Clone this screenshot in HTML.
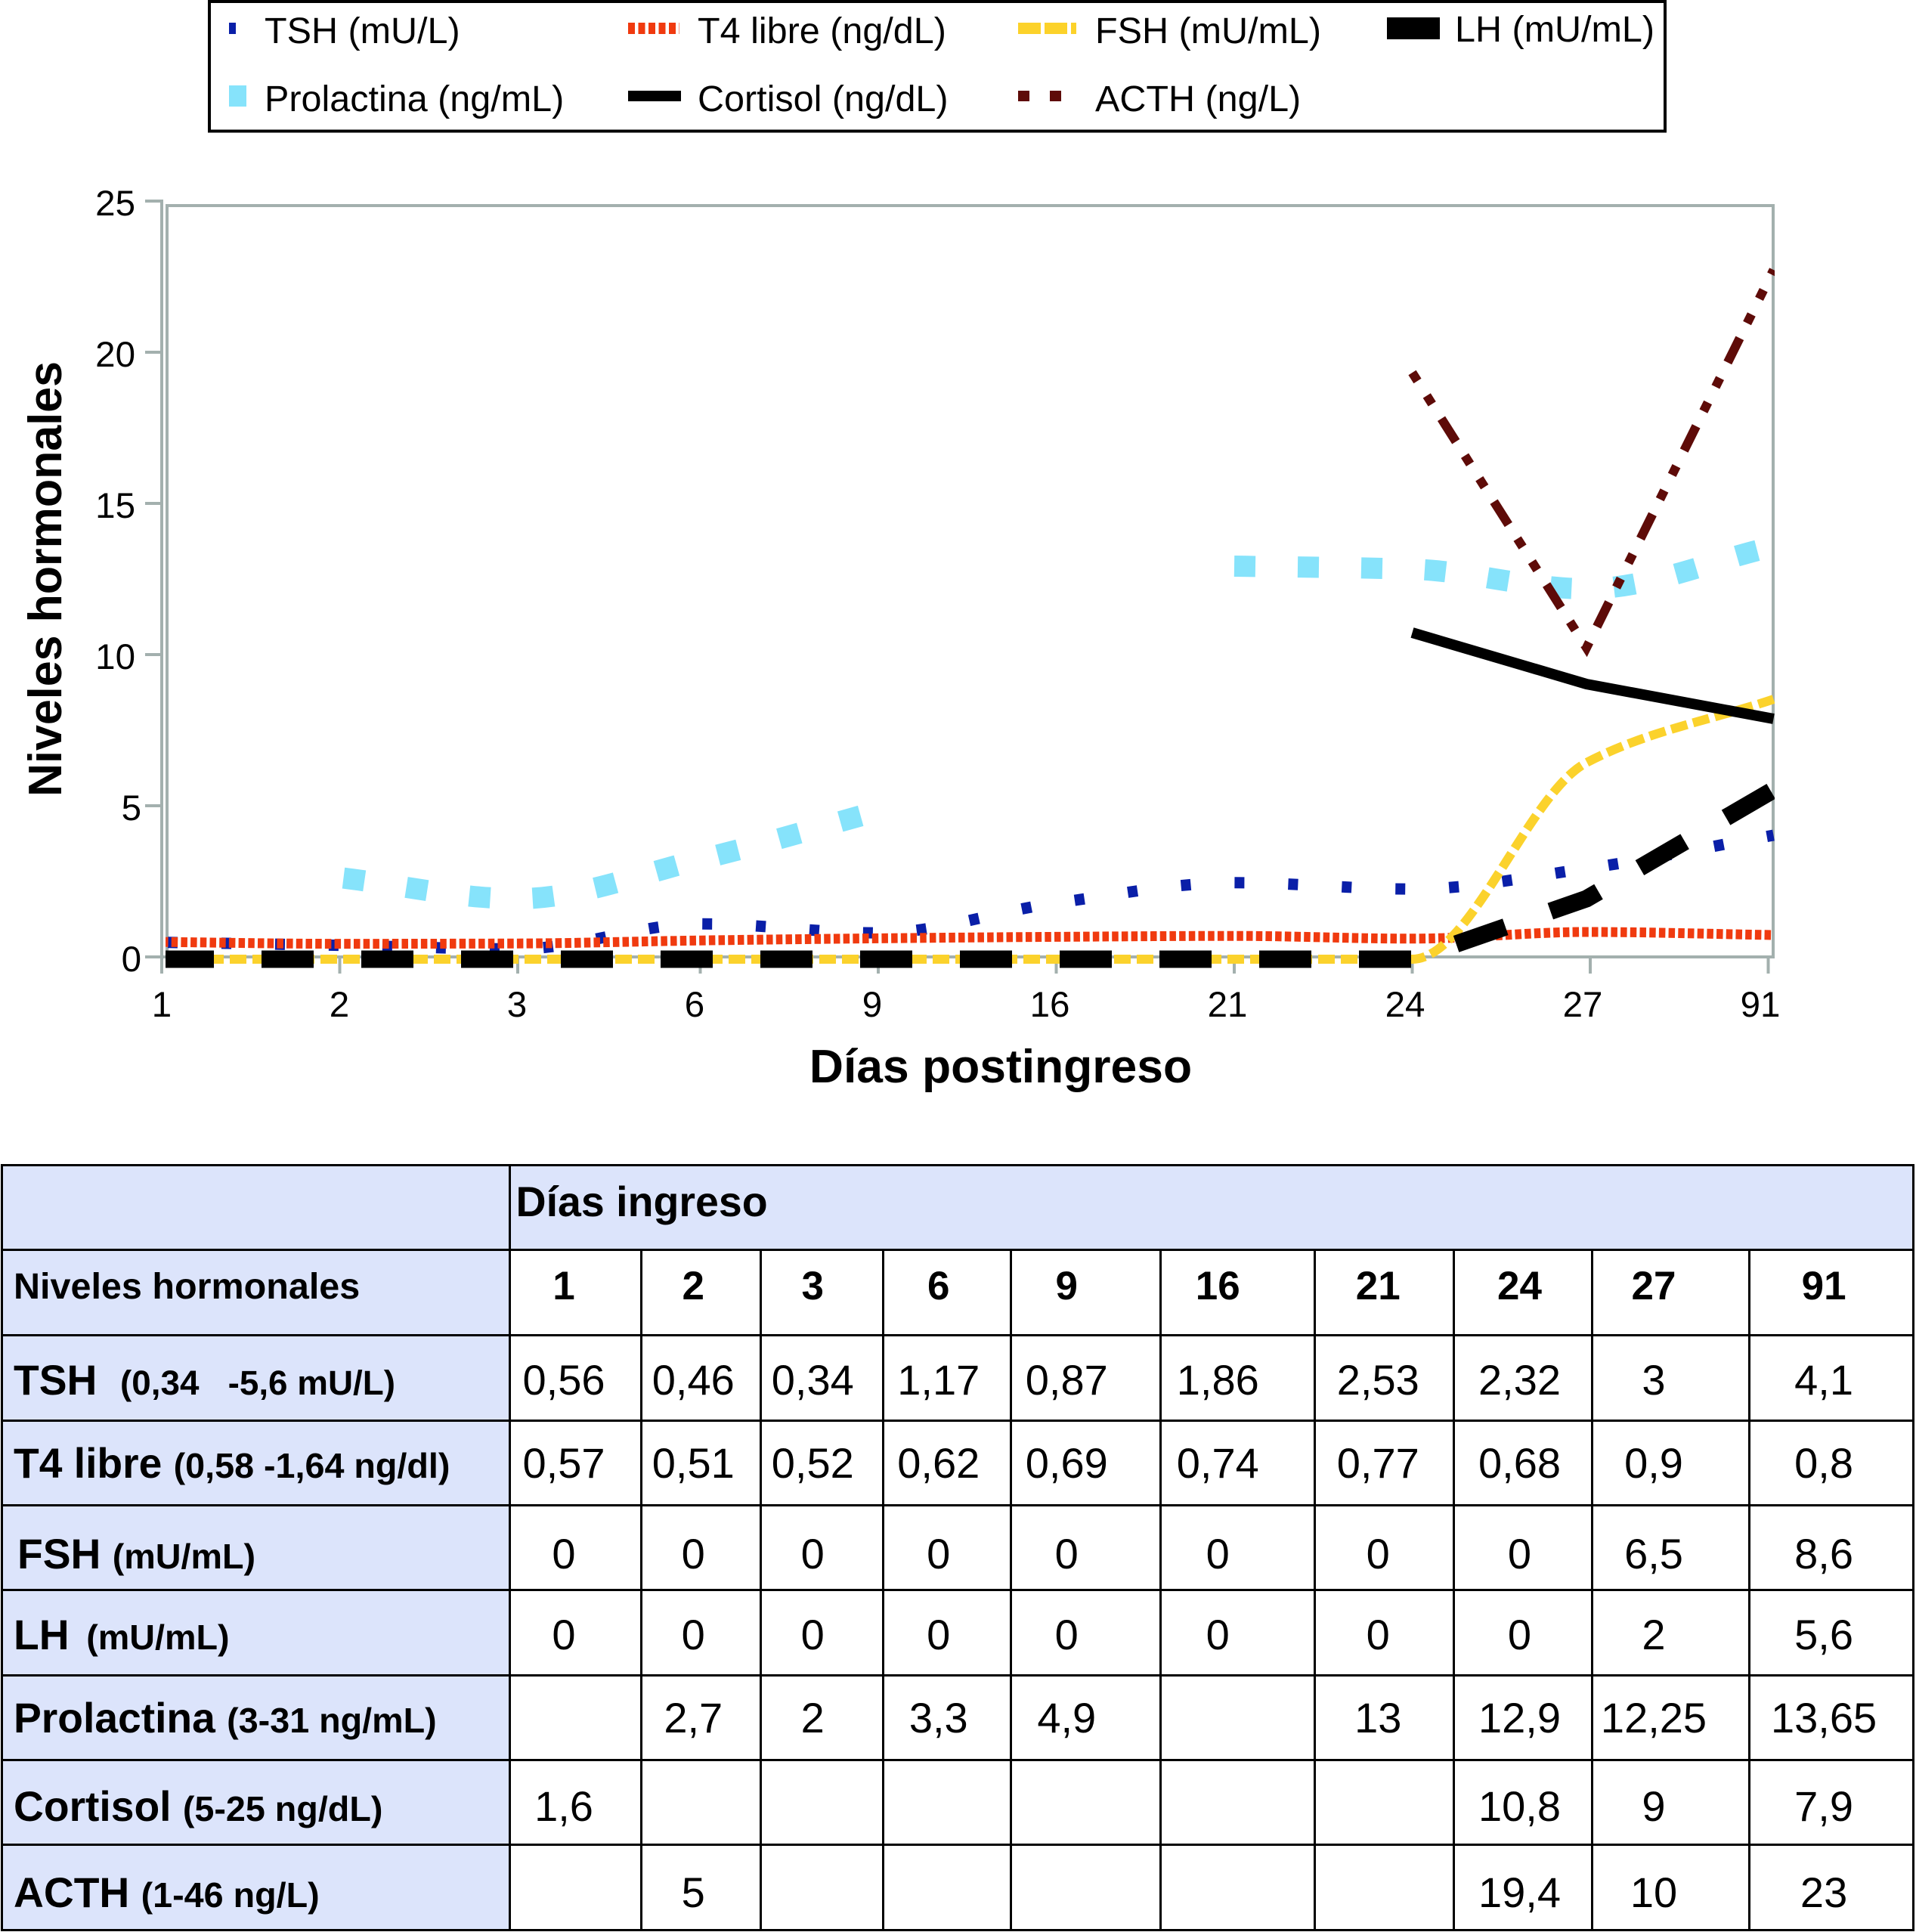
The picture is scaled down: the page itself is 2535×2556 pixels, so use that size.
<!DOCTYPE html>
<html lang="es">
<head>
<meta charset="utf-8">
<title>Niveles hormonales</title>
<style>
html,body{margin:0;padding:0;background:#fff;}
html{width:2535px;height:2556px;overflow:hidden;}
body{position:relative;width:2535px;height:2556px;overflow:hidden;font-family:"Liberation Sans",Arial,sans-serif;color:#000;}
#chart{position:absolute;left:0;top:0;width:2535px;height:1530px;}
#chart text{font-family:"Liberation Sans",Arial,sans-serif;fill:#000;}
#hormone-table{position:absolute;left:1px;top:1539.5px;width:2531.5px;table-layout:fixed;border-collapse:collapse;border:3px solid #000;}
#hormone-table td{border:3px solid #000;padding:0;vertical-align:top;font-size:56px;line-height:60px;text-align:center;white-space:nowrap;background:#fff;overflow:visible;box-sizing:border-box;}
#hormone-table td.lab{background:#dce4fb;text-align:left;padding-left:14px;font-weight:bold;font-size:55.2px;}
#hormone-table td.head{background:#dce4fb;text-align:left;padding-left:7px;font-weight:bold;font-size:55.5px;}
#hormone-table td:nth-child(2){padding-right:30px;}
#hormone-table td:nth-child(3){padding-right:20px;}
#hormone-table td:nth-child(4){padding-right:24px;}
#hormone-table td:nth-child(5){padding-right:22px;}
#hormone-table td:nth-child(6){padding-right:50px;}
#hormone-table td:nth-child(7){padding-right:52px;}
#hormone-table td:nth-child(8){padding-right:16px;}
#hormone-table td:nth-child(9){padding-right:8px;}
#hormone-table td:nth-child(10){padding-right:44px;}
#hormone-table td:nth-child(11){padding-right:19px;}
#hormone-table td.head:nth-child(2){padding-right:0;}
#hormone-table .hd td{font-weight:bold;font-size:53px;}
#hormone-table .hd td.lab{font-size:48.5px;}
#hormone-table .u{font-size:46.7px;}
.r0{height:112.5px;} .r0 td{padding-top:17px !important;height:112.5px;}
.r1{height:112.5px;} .r1 td{padding-top:17px !important;height:112.5px;}
.r2{height:113px;} .r2 td{padding-top:28px !important;height:113px;}
.r3{height:112px;} .r3 td{padding-top:25px !important;height:112px;}
.r4{height:112px;} .r4 td{padding-top:33px !important;height:112px;}
.r5{height:113px;} .r5 td{padding-top:28px !important;height:113px;}
.r6{height:112px;} .r6 td{padding-top:25px !important;height:112px;}
.r7{height:112px;} .r7 td{padding-top:30px !important;height:112px;}
.r8{height:113px;} .r8 td{padding-top:32px !important;height:113px;}
</style>
</head>
<body>

<svg id="chart" viewBox="0 0 2535 1530" xmlns="http://www.w3.org/2000/svg">
  <defs>
    <clipPath id="plot-clip"><rect x="219" y="270" width="2129" height="1020"/></clipPath>
  </defs>

  <g>
    <rect x="277" y="2" width="1926" height="171.5" fill="#fff" stroke="#000" stroke-width="4"/>
    <g>
      <rect x="303" y="30" width="9" height="15" fill="#0a1fa8"/>
      <text x="350" y="57" font-size="48.5">TSH (mU/L)</text>
    </g>
    <g>
      <line x1="831" y1="37.5" x2="899" y2="37.5" stroke="#f03a0f" stroke-width="15" stroke-dasharray="9 4.5"/>
      <text x="923" y="57" font-size="48.5">T4 libre (ng/dL)</text>
    </g>
    <g>
      <line x1="1347" y1="37.5" x2="1424" y2="37.5" stroke="#fcd22a" stroke-width="15" stroke-dasharray="30 5"/>
      <text x="1449" y="57" font-size="48.5">FSH (mU/mL)</text>
    </g>
    <g>
      <rect x="1835" y="23" width="70" height="29" fill="#000"/>
      <text x="1925" y="55" font-size="48.5">LH (mU/mL)</text>
    </g>
    <g>
      <rect x="303" y="113" width="23" height="28" fill="#86e3fb"/>
      <text x="350" y="147" font-size="48.5">Prolactina (ng/mL)</text>
    </g>
    <g>
      <rect x="831" y="120" width="70" height="14" fill="#000"/>
      <text x="923" y="147" font-size="48.5">Cortisol (ng/dL)</text>
    </g>
    <g>
      <rect x="1347" y="120" width="15" height="14" fill="#5e0b08"/>
      <rect x="1389" y="120" width="15" height="14" fill="#5e0b08"/>
      <text x="1449" y="147" font-size="48.5">ACTH (ng/L)</text>
    </g>
  </g>

  <g id="frame"></g>
  <g id="axes"></g>
  <g id="series" clip-path="url(#plot-clip)"></g>

  <text x="1324" y="1432" font-size="62.4" font-weight="bold" text-anchor="middle">Días postingreso</text>
  <text transform="translate(81,766) rotate(-90)" font-size="62" font-weight="bold" text-anchor="middle" textLength="576" lengthAdjust="spacingAndGlyphs">Niveles hormonales</text>
</svg>

<table id="hormone-table">
  <colgroup>
    <col style="width:671.5px"><col style="width:174px"><col style="width:158.5px"><col style="width:161.5px"><col style="width:169.5px"><col style="width:197.5px"><col style="width:204.5px"><col style="width:183.5px"><col style="width:183px"><col style="width:208px"><col style="width:217px">
  </colgroup>
  <tr class="r0">
    <td class="lab"></td>
    <td class="head" colspan="10">Días ingreso</td>
  </tr>
  <tr class="r1 hd">
    <td class="lab">Niveles hormonales</td>
    <td>1</td>
    <td>2</td>
    <td>3</td>
    <td>6</td>
    <td>9</td>
    <td>16</td>
    <td>21</td>
    <td>24</td>
    <td>27</td>
    <td>91</td>
  </tr>
  <tr class="r2">
    <td class="lab">TSH&nbsp; <span class="u" style="font-size:45.8px">(0,34 &nbsp; -5,6 mU/L)</span></td>
    <td>0,56</td>
    <td>0,46</td>
    <td>0,34</td>
    <td>1,17</td>
    <td>0,87</td>
    <td>1,86</td>
    <td>2,53</td>
    <td>2,32</td>
    <td>3</td>
    <td>4,1</td>
  </tr>
  <tr class="r3">
    <td class="lab">T4 libre <span class="u">(0,58 -1,64 ng/dl)</span></td>
    <td>0,57</td>
    <td>0,51</td>
    <td>0,52</td>
    <td>0,62</td>
    <td>0,69</td>
    <td>0,74</td>
    <td>0,77</td>
    <td>0,68</td>
    <td>0,9</td>
    <td>0,8</td>
  </tr>
  <tr class="r4">
    <td class="lab" style="padding-left:19px">FSH <span class="u">(mU/mL)</span></td>
    <td>0</td>
    <td>0</td>
    <td>0</td>
    <td>0</td>
    <td>0</td>
    <td>0</td>
    <td>0</td>
    <td>0</td>
    <td>6,5</td>
    <td>8,6</td>
  </tr>
  <tr class="r5">
    <td class="lab">LH&nbsp; <span class="u" style="margin-left:-8px">(mU/mL)</span></td>
    <td>0</td>
    <td>0</td>
    <td>0</td>
    <td>0</td>
    <td>0</td>
    <td>0</td>
    <td>0</td>
    <td>0</td>
    <td>2</td>
    <td>5,6</td>
  </tr>
  <tr class="r6">
    <td class="lab">Prolactina <span class="u">(3-31 ng/mL)</span></td>
    <td></td>
    <td>2,7</td>
    <td>2</td>
    <td>3,3</td>
    <td>4,9</td>
    <td></td>
    <td>13</td>
    <td>12,9</td>
    <td>12,25</td>
    <td>13,65</td>
  </tr>
  <tr class="r7">
    <td class="lab">Cortisol <span class="u">(5-25 ng/dL)</span></td>
    <td>1,6</td>
    <td></td>
    <td></td>
    <td></td>
    <td></td>
    <td></td>
    <td></td>
    <td>10,8</td>
    <td>9</td>
    <td>7,9</td>
  </tr>
  <tr class="r8">
    <td class="lab">ACTH <span class="u">(1-46 ng/L)</span></td>
    <td></td>
    <td>5</td>
    <td></td>
    <td></td>
    <td></td>
    <td></td>
    <td></td>
    <td>19,4</td>
    <td>10</td>
    <td>23</td>
  </tr>
</table>

<script>
const categories = ['1','2','3','6','9','16','21','24','27','91'];
const yTickValues = [0,5,10,15,20,25];
const tshValues = [0.56,0.46,0.34,1.17,0.87,1.86,2.53,2.32,3,4.1];
const t4Values = [0.57,0.51,0.52,0.62,0.69,0.74,0.77,0.68,0.9,0.8];
const fshValues = [0,0,0,0,0,0,0,0,6.5,8.6];
const lhValues = [0,0,0,0,0,0,0,0,2,5.6];
const prolactinaValues = [null,2.7,2,3.3,4.9,null,13,12.9,12.25,13.65];
const cortisolValues = [1.6,null,null,null,null,null,null,10.8,9.1,7.95];
const acthValues = [null,5,null,null,null,null,null,19.4,10.3,22.8];

const SVGNS = 'http://www.w3.org/2000/svg';
const GREY = '#a3b0ae';
function xTick(i){ return 214 + 235.5*i + (i >= 3 ? 6 : 0); }
function xLabel(i){ return 214 + 235*i; }
function xLine(i){ return xTick(i) + (i === 8 ? -5 : i === 9 ? 7 : 0); }
function yScale(v){ return 1266 - 40*v; }
function yLine(v){ return 1269 - 40*v; }

function line(parent,x1,y1,x2,y2,w){
  const el = document.createElementNS(SVGNS,'line');
  el.setAttribute('x1',x1); el.setAttribute('y1',y1);
  el.setAttribute('x2',x2); el.setAttribute('y2',y2);
  el.setAttribute('stroke',GREY); el.setAttribute('stroke-width',w);
  parent.appendChild(el);
  return el;
}

const frameG = document.getElementById('frame');
const frameTop = line(frameG,219,272,2348,272,4);


const frameLeft = line(frameG,221,270,221,1266,4);


const frameRight = line(frameG,2346,270,2346,1268,4);



const axesG = document.getElementById('axes');
const yAxisLine = line(axesG,214,yScale(25)-2,214,1288,4);


const xAxisLine = line(axesG,212,yScale(0),2348,yScale(0),4);



yTickValues.forEach(function(v){
  const t = line(axesG,192,yScale(v),214,yScale(v),4);
  
  
  const lab = document.createElementNS(SVGNS,'text');
  
  
  lab.setAttribute('x', String(v).length>1 ? 179 : 187);
  lab.setAttribute('y', yScale(v)+19);
  lab.setAttribute('font-size','47.5');
  lab.setAttribute('text-anchor','end');
  lab.textContent = v;
  axesG.appendChild(lab);
});

categories.forEach(function(c,i){
  const t = line(axesG,xTick(i),yScale(0),xTick(i),1288,4);
  
  
  const lab = document.createElementNS(SVGNS,'text');
  
  
  lab.setAttribute('x', xLabel(i));
  lab.setAttribute('y', 1345);
  lab.setAttribute('font-size','47.5');
  lab.setAttribute('text-anchor','middle');
  lab.textContent = c;
  axesG.appendChild(lab);
});

function segments(values){
  const out = [];
  let cur = [];
  values.forEach(function(v,i){
    if(v === null){ if(cur.length) out.push(cur); cur = []; }
    else cur.push([xLine(i), yLine(v)]);
  });
  if(cur.length) out.push(cur);
  return out.filter(function(s){ return s.length > 1; });
}

function pathFor(pts,smooth){
  let d = 'M'+pts[0][0]+' '+pts[0][1];
  if(!smooth){
    for(let i=1;i<pts.length;i++) d += 'L'+pts[i][0]+' '+pts[i][1];
    return d;
  }
  const s = [];
  for(let i=0;i<pts.length-1;i++) s.push((pts[i+1][1]-pts[i][1])/(pts[i+1][0]-pts[i][0]));
  const m = [s[0]];
  for(let i=1;i<pts.length-1;i++){
    m.push(s[i-1]*s[i] <= 0 ? 0 : 2*s[i-1]*s[i]/(s[i-1]+s[i]));
  }
  m.push(s[s.length-1]);
  for(let i=0;i<pts.length-1;i++){
    const dx = (pts[i+1][0]-pts[i][0])/3;
    d += 'C'+(pts[i][0]+dx)+' '+(pts[i][1]+m[i]*dx)+' '+(pts[i+1][0]-dx)+' '+(pts[i+1][1]-m[i+1]*dx)+' '+pts[i+1][0]+' '+pts[i+1][1];
  }
  return d;
}

const seriesG = document.getElementById('series');
function drawSeries(name,values,color,width,dash,smooth,firstOffset){
  segments(values).forEach(function(pts,idx){
    const p = document.createElementNS(SVGNS,'path');
    
    
    p.setAttribute('d',pathFor(pts,smooth));
    p.setAttribute('fill','none');
    p.setAttribute('stroke',color);
    p.setAttribute('stroke-width',width);
    if(dash) p.setAttribute('stroke-dasharray',dash);
    if(firstOffset && idx === 0) p.setAttribute('stroke-dashoffset',firstOffset);
    seriesG.appendChild(p);
  });
}

drawSeries('tsh',tshValues,'#0a1fa8',15,'13 58',true,-8);
drawSeries('t4',t4Values,'#f03a0f',13,'8.5 4.2',true);
drawSeries('fsh',fshValues,'#fbd22c',12,'22 8',true);
drawSeries('lh',lhValues,'#000000',23,'69 63',false);
drawSeries('prolactina',prolactinaValues,'#86e3fb',28,'28 56',true,-5);
drawSeries('cortisol',cortisolValues,'#000000',14,null,false);
drawSeries('acth',acthValues,'#5e0b08',12,'13 23 13 23 36 22',false);
</script>
</body>
</html>
